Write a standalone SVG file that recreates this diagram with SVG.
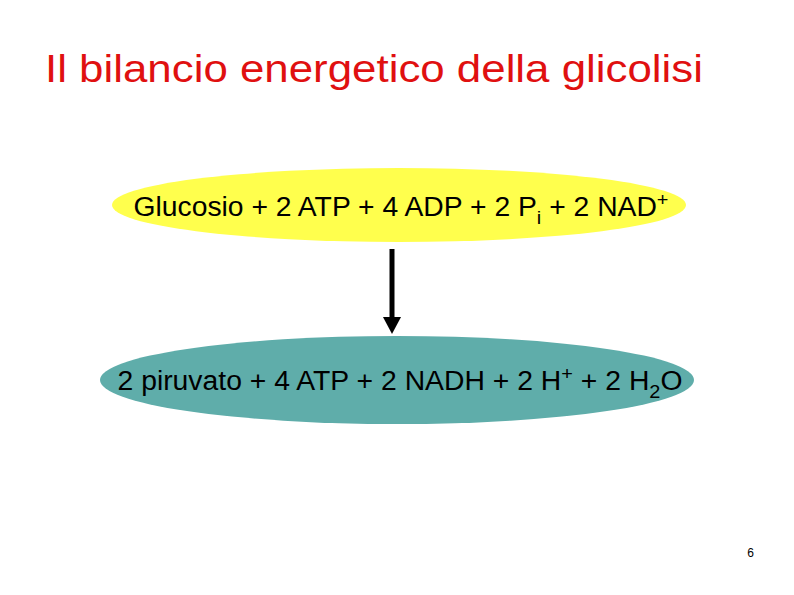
<svg xmlns="http://www.w3.org/2000/svg" width="794" height="595" viewBox="0 0 794 595">
<style>
text{font-family:"Liberation Sans",Arial,sans-serif;fill:#000}
.lbl{font-size:27px}
</style>
<rect width="794" height="595" fill="#fff"/>
<text x="45" y="82" font-size="38" textLength="658" lengthAdjust="spacingAndGlyphs" style="fill:#e01010">Il bilancio energetico della glicolisi</text>
<g id="glucosio">
<ellipse cx="399" cy="205" rx="287" ry="37" fill="#ffff4d"/>
<text class="lbl" x="401" y="216" text-anchor="middle" textLength="535" lengthAdjust="spacingAndGlyphs">Glucosio + 2 ATP + 4 ADP + 2 P<tspan font-size="19" dy="8">i</tspan><tspan dy="-8"> + 2 NAD</tspan><tspan font-size="19" dy="-10">+</tspan></text>
</g>
<g id="piruvato">
<ellipse cx="397" cy="380" rx="297" ry="44" fill="#5fadaa"/>
<text class="lbl" x="400" y="390" text-anchor="middle" textLength="565" lengthAdjust="spacingAndGlyphs">2 piruvato + 4 ATP + 2 NADH + 2 H<tspan font-size="19" dy="-10">+</tspan><tspan dy="10"> + 2 H</tspan><tspan font-size="19" dy="8">2</tspan><tspan dy="-8">O</tspan></text>
</g>
<g id="connectors">
<line x1="392" y1="249" x2="392" y2="320" stroke="#000" stroke-width="5"/>
<polygon points="383,317 401,317 392,334" fill="#000"/>
</g>
<text x="754" y="557" font-size="12" text-anchor="end">6</text>
</svg>
